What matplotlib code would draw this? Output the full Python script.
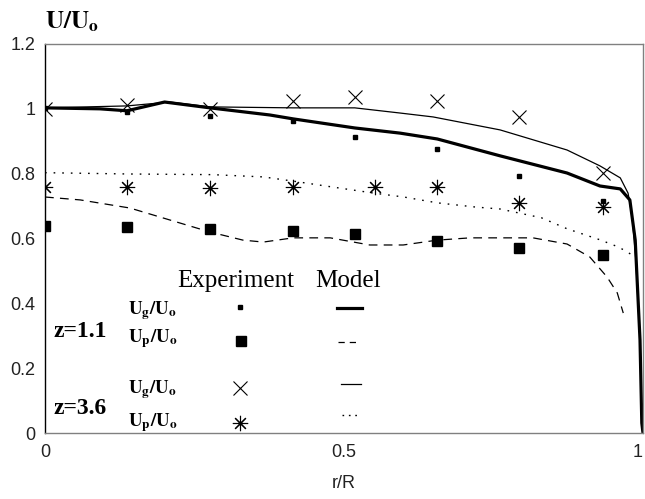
import matplotlib
matplotlib.use("Agg")
import matplotlib.pyplot as plt
from matplotlib.lines import Line2D

plt.rcParams['mathtext.fontset'] = 'stix'

# ---------------- data ----------------
# experiment radial positions
r_exp = [0, 0.137, 0.276, 0.415, 0.518, 0.656, 0.793, 0.933]
r_exp_p36 = [0, 0.137, 0.276, 0.415, 0.552, 0.656, 0.793, 0.933]

ug_11_exp = [1.003, 0.990, 0.978, 0.962, 0.913, 0.876, 0.793, 0.716]
up_11_exp = [0.639, 0.636, 0.629, 0.623, 0.614, 0.592, 0.571, 0.549]
ug_36_exp = [1.000, 1.012, 1.000, 1.024, 1.037, 1.024, 0.975, 0.802]
up_36_exp = [0.759, 0.759, 0.756, 0.759, 0.759, 0.759, 0.710, 0.697]

# model curves
r_ug11 = [0, 0.092, 0.137, 0.200, 0.276, 0.376, 0.415, 0.518, 0.594, 0.656,
          0.761, 0.873, 0.928, 0.962, 0.978, 0.987, 0.995, 0.998, 1.0]
ug_11_mod = [1.003, 1.0, 0.994, 1.021, 1.003, 0.981, 0.969, 0.941, 0.925, 0.907,
             0.855, 0.802, 0.762, 0.753, 0.719, 0.595, 0.287, 0.031, 0.0]

r_ug36 = [0, 0.137, 0.209, 0.276, 0.415, 0.518, 0.594, 0.649, 0.761, 0.873,
          0.928, 0.962, 0.975, 0.982, 0.988, 0.995, 0.998, 1.0]
ug_36_mod = [1.003, 1.009, 1.021, 1.006, 1.003, 1.003, 0.987, 0.975, 0.935, 0.873,
             0.824, 0.787, 0.740, 0.666, 0.534, 0.287, 0.031, 0.0]

r_up36 = [0, 0.14, 0.28, 0.365, 0.415, 0.48, 0.55, 0.60, 0.656, 0.72, 0.761,
          0.83, 0.873, 0.928, 0.96, 0.982]
up_36_mod = [0.803, 0.799, 0.797, 0.790, 0.777, 0.759, 0.740, 0.728, 0.710, 0.697,
             0.691, 0.664, 0.630, 0.596, 0.573, 0.549]

r_up11 = [0, 0.059, 0.142, 0.209, 0.276, 0.331, 0.365, 0.415, 0.477, 0.543, 0.599,
          0.656, 0.711, 0.816, 0.873, 0.911, 0.940, 0.957, 0.967]
up_11_mod = [0.728, 0.719, 0.694, 0.657, 0.620, 0.595, 0.589, 0.602, 0.602, 0.580,
             0.580, 0.595, 0.602, 0.602, 0.583, 0.543, 0.481, 0.432, 0.370]

x_ticks = [0, 0.5, 1]
x_ticklabels = ["0", "0.5", "1"]
y_ticks = [0, 0.2, 0.4, 0.6, 0.8, 1.0, 1.2]
y_ticklabels = ["0", "0.2", "0.4", "0.6", "0.8", "1", "1.2"]

# ---------------- figure ----------------
fig = plt.figure(figsize=(6.45, 4.99), dpi=100)
ax = fig.add_axes([45/645, 66/499, 598/645, 389/499])

ASTER = (8, 2, 0)

# model lines
ax.plot(r_ug11, ug_11_mod, color='black', lw=2.3, solid_joinstyle='round')
ax.plot(r_ug36, ug_36_mod, color='black', lw=0.9)
ax.plot(r_up11, up_11_mod, color='black', lw=0.9, linestyle=(0, (7, 5)))
ax.plot(r_up36, up_36_mod, color='black', lw=1.0, linestyle=(0, (1.2, 5)))

# experiments
ax.plot(r_exp, ug_11_exp, 's', color='black', ms=3.2, ls='none')
ax.plot(r_exp, up_11_exp, 's', color='black', ms=6.5, ls='none')
ax.plot(r_exp, ug_36_exp, 'x', color='black', ms=9.5, mew=0.8, ls='none')
ax.plot(r_exp_p36, up_36_exp, marker=ASTER, color='black', ms=11, mew=0.8, ls='none')

ax.set_xlim(0, 1)
ax.set_ylim(0, 1.2)
ax.set_xticks(x_ticks)
ax.set_xticklabels(x_ticklabels)
ax.set_yticks(y_ticks)
ax.set_yticklabels(y_ticklabels)
ax.tick_params(length=0, labelsize=13, colors='#222222', pad=8)
ax.tick_params(axis='y', pad=7)
for lab in ax.get_xticklabels() + ax.get_yticklabels():
    lab.set_family('Liberation Sans')
ax.get_xticklabels()[-1].set_horizontalalignment('right')

for s in ['top', 'right', 'bottom']:
    ax.spines[s].set_color('#808080')
    ax.spines[s].set_linewidth(1.0)
ax.spines['left'].set_color('black')
ax.spines['left'].set_linewidth(1.0)

ax.set_xlabel('r/R', fontsize=13, family='Liberation Sans', color='#222222', labelpad=10)

fig.text(45/645, 1 - 22/499, r'$\mathbf{U/U_o}$', fontsize=18, ha='left', va='center')

# ---------------- manual legend ----------------
T = ax.transAxes
serif = 'Liberation Serif'
ax.text(0.319, 0.39, 'Experiment', transform=T, fontsize=18, family=serif,
        ha='center', va='center')
ax.text(0.507, 0.39, 'Model', transform=T, fontsize=18, family=serif,
        ha='center', va='center')

ax.text(0.0134, 0.26, 'z=1.1', transform=T, fontsize=17, family=serif,
        weight='bold', ha='left', va='center')
ax.text(0.0134, 0.064, 'z=3.6', transform=T, fontsize=17, family=serif,
        weight='bold', ha='left', va='center')

for yy, lab in [(0.316, r'$\mathbf{U_g/U_o}$'), (0.244, r'$\mathbf{U_p/U_o}$'),
                (0.111, r'$\mathbf{U_g/U_o}$'), (0.026, r'$\mathbf{U_p/U_o}$')]:
    ax.text(0.139, yy, lab, transform=T, fontsize=13.5, ha='left', va='center')

ax.add_line(Line2D([0.326], [0.324], transform=T, marker='s', color='black', ms=3.2, ls='none'))
ax.add_line(Line2D([0.328], [0.237], transform=T, marker='s', color='black', ms=6.5, ls='none'))
ax.add_line(Line2D([0.326], [0.116], transform=T, marker='x', color='black', ms=9.5, mew=0.8, ls='none'))
ax.add_line(Line2D([0.326], [0.026], transform=T, marker=ASTER, color='black', ms=11, mew=0.8, ls='none', clip_on=False))

ax.add_line(Line2D([0.488, 0.530], [0.321, 0.321], transform=T, color='black', lw=2.3))
ax.add_line(Line2D([0.490, 0.527], [0.234, 0.234], transform=T, color='black', lw=0.9, linestyle=(0, (5, 4))))
ax.add_line(Line2D([0.495, 0.528], [0.126, 0.126], transform=T, color='black', lw=0.9))
ax.add_line(Line2D([0.497, 0.521], [0.046, 0.046], transform=T, color='black', lw=1.0, linestyle=(0, (1.2, 3.4))))

fig.savefig('out.png', dpi=100)
